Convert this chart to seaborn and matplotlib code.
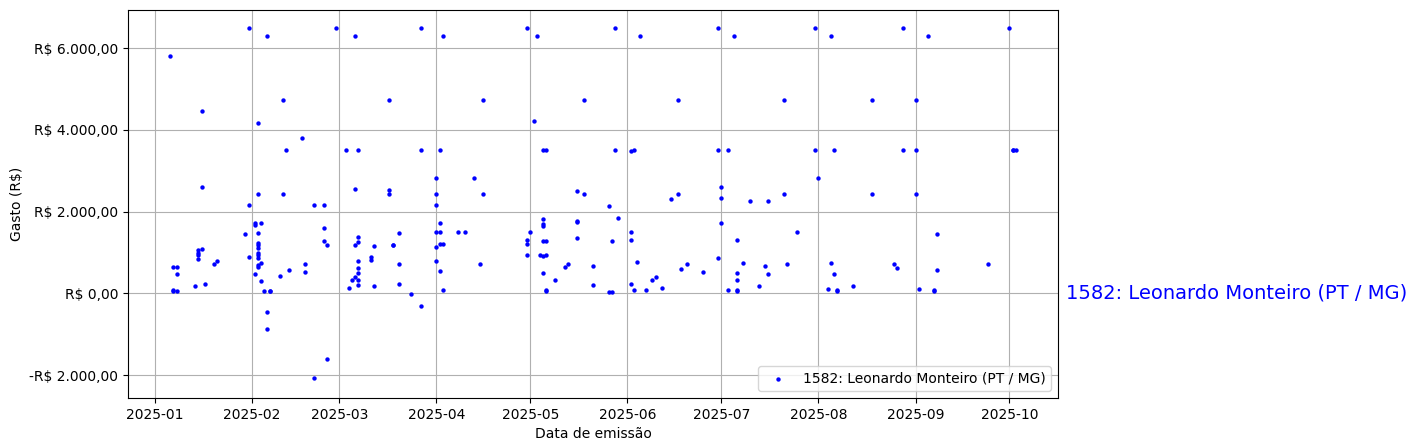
import matplotlib
matplotlib.use("Agg")
import matplotlib.pyplot as plt
import matplotlib.dates as mdates
from matplotlib.ticker import FuncFormatter, MultipleLocator
import seaborn as sns
import pandas as pd

label = "1582: Leonardo Monteiro (PT / MG)"

dates = [
    "2025-01-06", "2025-01-07", "2025-01-08", "2025-01-08", "2025-01-07", "2025-01-07", "2025-01-08",
    "2025-01-14", "2025-01-15", "2025-01-15", "2025-01-15", "2025-01-15", "2025-01-16",
    "2025-01-16", "2025-01-16", "2025-01-17", "2025-01-20", "2025-01-21",
    "2025-01-30", "2025-01-31", "2025-01-31", "2025-01-31",
    "2025-02-03", "2025-02-03", "2025-02-02", "2025-02-02", "2025-02-04",
    "2025-02-03", "2025-02-03", "2025-02-03", "2025-02-03", "2025-02-03", "2025-02-03", "2025-02-03",
    "2025-02-04", "2025-02-03", "2025-02-03", "2025-02-02", "2025-02-04", "2025-02-05",
    "2025-02-07", "2025-02-07", "2025-02-06", "2025-02-06",
    "2025-02-06", "2025-02-11", "2025-02-12", "2025-02-11", "2025-02-10", "2025-02-13",
    "2025-02-17", "2025-02-18", "2025-02-18", "2025-02-21", "2025-02-24",
    "2025-02-24", "2025-02-24", "2025-02-25", "2025-02-25", "2025-02-21", "2025-02-28",
    "2025-03-03", "2025-03-07", "2025-03-06", "2025-03-06",
    "2025-03-06", "2025-03-07", "2025-03-07", "2025-03-07", "2025-03-07", "2025-03-07",
    "2025-03-06", "2025-03-05", "2025-03-07", "2025-03-07", "2025-03-04",
    "2025-03-12", "2025-03-11", "2025-03-11", "2025-03-12",
    "2025-03-17", "2025-03-17", "2025-03-17", "2025-03-18", "2025-03-18",
    "2025-03-20", "2025-03-20", "2025-03-20", "2025-03-24", "2025-03-27",
    "2025-03-27", "2025-03-27",
    "2025-04-03", "2025-04-02", "2025-04-01", "2025-04-01", "2025-04-01",
    "2025-04-02", "2025-04-01", "2025-04-02", "2025-04-01", "2025-04-02", "2025-04-03",
    "2025-04-01", "2025-04-02", "2025-04-03",
    "2025-04-08", "2025-04-10", "2025-04-13", "2025-04-16", "2025-04-16", "2025-04-15",
    "2025-04-30", "2025-05-03", "2025-05-02",
    "2025-05-01", "2025-04-30", "2025-04-30", "2025-04-30",
    "2025-05-05", "2025-05-06",
    "2025-05-05", "2025-05-05", "2025-05-05", "2025-05-05", "2025-05-06", "2025-05-04",
    "2025-05-05", "2025-05-06", "2025-05-05", "2025-05-06", "2025-05-06",
    "2025-05-09", "2025-05-12", "2025-05-13",
    "2025-05-16", "2025-05-18", "2025-05-18", "2025-05-16", "2025-05-16", "2025-05-16",
    "2025-05-21", "2025-05-21", "2025-05-26", "2025-05-26", "2025-05-27",
    "2025-05-28", "2025-05-28", "2025-05-29", "2025-05-27",
    "2025-06-05", "2025-06-02", "2025-06-03",
    "2025-06-02", "2025-06-02", "2025-06-04", "2025-06-02", "2025-06-03", "2025-06-07",
    "2025-06-09", "2025-06-10", "2025-06-12",
    "2025-06-17", "2025-06-17", "2025-06-15", "2025-06-18", "2025-06-20", "2025-06-25",
    "2025-06-30", "2025-06-30", "2025-07-05", "2025-07-03",
    "2025-07-01", "2025-07-01", "2025-07-01", "2025-06-30", "2025-07-03",
    "2025-07-06", "2025-07-08", "2025-07-06", "2025-07-06", "2025-07-06", "2025-07-06",
    "2025-07-10", "2025-07-13", "2025-07-16", "2025-07-15", "2025-07-16",
    "2025-07-21", "2025-07-21", "2025-07-25", "2025-07-22",
    "2025-07-31", "2025-07-31", "2025-08-01", "2025-08-05", "2025-08-06",
    "2025-08-05", "2025-08-06", "2025-08-04", "2025-08-07", "2025-08-07", "2025-08-12",
    "2025-08-18", "2025-08-18", "2025-08-25", "2025-08-26",
    "2025-08-28", "2025-08-28",
    "2025-09-01", "2025-09-01", "2025-09-01", "2025-09-02", "2025-09-05",
    "2025-09-08", "2025-09-08", "2025-09-07", "2025-09-07", "2025-09-24",
    "2025-10-01", "2025-10-02", "2025-10-02", "2025-10-03",
]

values = [
    5800, 640, 640, 465, 70, 50, 50,
    170, 1070, 990, 930, 850, 1080,
    4450, 2600, 220, 710, 780,
    1460, 6500, 2170, 900,
    4160, 2440, 1710, 1680, 1710,
    1485, 1240, 1175, 1118, 987, 930, 873,
    750, 702, 645, 482, 310, 65,
    65, 60, -450, -865,
    6300, 4720, 3500, 2420, 430, 560,
    3790, 710, 510, 2150, 2150,
    1590, 1270, 1170, -1600, -2060, 6500,
    3500, 3500, 6300, 2540,
    1170, 1390, 1250, 780, 610, 490,
    390, 320, 320, 200, 120,
    1150, 880, 810, 170,
    4720, 2520, 2420, 1170, 1170,
    1470, 710, 220, -20, -320,
    6500, 3500,
    6300, 3500, 2820, 2440, 2150,
    1710, 1490, 1490, 1130, 1200, 1200,
    800, 540, 70,
    1490, 1490, 2820, 4720, 2420, 710,
    6500, 6300, 4210,
    1490, 1300, 1200, 930,
    3500, 3500,
    1810, 1690, 1640, 1270, 1270, 930,
    910, 930, 490, 70, 60,
    320, 640, 710,
    2500, 2420, 4720, 1780, 1740, 1350,
    660, 200, 2130, 30, 30,
    6500, 3500, 1840, 1270,
    6300, 3480, 3500,
    1490, 1300, 760, 240, 70, 70,
    320, 390, 120,
    4720, 2420, 2300, 590, 710, 510,
    6500, 3500, 6300, 3500,
    2600, 2330, 1710, 860, 70,
    1300, 730, 490, 320, 70, 60,
    2270, 170, 2250, 660, 470,
    4720, 2420, 1490, 710,
    6500, 3500, 2820, 6300, 3500,
    730, 470, 100, 70, 60, 170,
    4720, 2420, 710, 610,
    6500, 3500,
    4720, 3500, 2420, 100, 6300,
    1440, 560, 70, 60, 710,
    6500, 3500, 3500, 3500,
]

df = pd.DataFrame({"data": pd.to_datetime(dates), "gasto": values})

fig = plt.figure(figsize=(14.17, 4.48), dpi=100)
ax = fig.add_axes([128 / 1417, 1 - 398 / 448, (1058 - 128) / 1417, (398 - 10) / 448])

sns.scatterplot(data=df, x="data", y="gasto", ax=ax, color="blue", s=10,
                linewidth=0, label=label)

ax.xaxis.set_major_locator(mdates.MonthLocator())
ax.xaxis.set_major_formatter(mdates.DateFormatter("%Y-%m"))


def brl(v, pos):
    s = f"{abs(v):,.2f}".replace(",", "X").replace(".", ",").replace("X", ".")
    return ("-R$ " if v < 0 else "R$ ") + s


ax.set_ylim(-2560, 6930)
ax.yaxis.set_major_locator(MultipleLocator(2000))
ax.yaxis.set_major_formatter(FuncFormatter(brl))
ax.grid(True)
ax.set_axisbelow(True)
ax.set_xlabel("Data de emissão")
ax.set_ylabel("Gasto (R$)")
ax.legend(loc="lower right")

ax.text(1.009, 0, label, transform=ax.get_yaxis_transform(), color="blue",
        fontsize=14, va="center", ha="left")

fig.savefig("out.png", dpi=100)
